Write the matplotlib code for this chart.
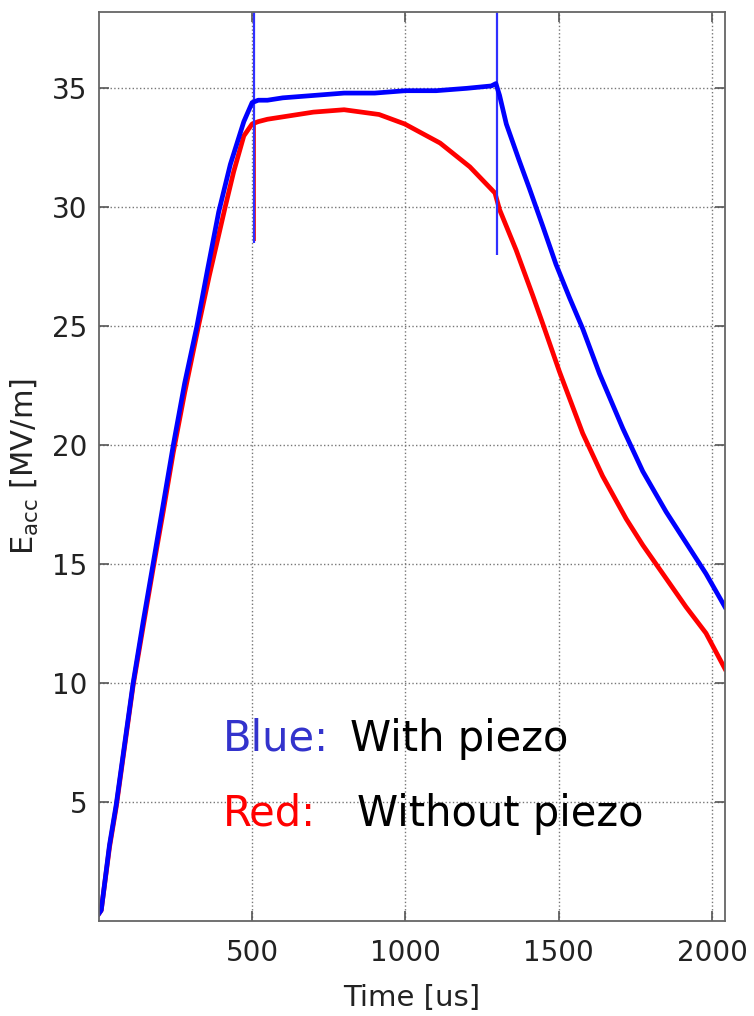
import numpy as np
import matplotlib
matplotlib.use("Agg")
from matplotlib import pyplot as plt

plt.rcParams['font.family'] = ['DejaVu Sans']

# values (time in us, Eacc in MV/m)
t_blue = [0, 8, 35, 57, 85, 112, 145, 177, 210, 243, 280, 320, 355, 391, 429, 473,
          500, 520, 550, 600, 700, 800, 900, 1000, 1100, 1200, 1280, 1295,
          1307, 1329, 1370, 1404, 1448, 1491, 1535, 1578, 1633, 1709, 1774, 1850,
          1915, 1980, 2042]
e_blue = [0.3, 0.45, 3.2, 4.9, 7.5, 10.0, 12.6, 15.0, 17.5, 20.0, 22.6, 25.0, 27.4, 29.8, 31.8, 33.6,
          34.4, 34.5, 34.5, 34.6, 34.7, 34.8, 34.8, 34.9, 34.9, 35.0, 35.1, 35.2,
          34.7, 33.5, 32.0, 30.8, 29.2, 27.6, 26.2, 24.9, 23.0, 20.7, 18.9, 17.2,
          15.9, 14.6, 13.2]

t_red = [0, 8, 35, 57, 85, 112, 145, 177, 210, 243, 280, 325, 360, 412, 440, 473,
         500, 520, 550, 600, 700, 800, 914, 998, 1113, 1210, 1292,
         1307, 1361, 1415, 1448, 1502, 1578, 1643, 1720, 1774, 1850, 1915, 1980, 2042]
e_red = [0.3, 0.45, 3.1, 4.8, 7.4, 9.9, 12.4, 14.8, 17.2, 19.7, 22.2, 25.0, 27.1, 30.0, 31.5, 33.0,
         33.5, 33.6, 33.7, 33.8, 34.0, 34.1, 33.9, 33.5, 32.7, 31.7, 30.6,
         29.9, 28.2, 26.3, 25.1, 23.1, 20.5, 18.7, 16.9, 15.8, 14.4, 13.2, 12.1, 10.6]

# short transients (time, low, high)
blue_spike_t = [505, 1300]
blue_spike_lo = [28.5, 28.0]
blue_spike_hi = [38.2, 38.2]
red_spike_t = [508, 1299]
red_spike_lo = [28.6, 29.0]
red_spike_hi = [33.5, 31.5]

x_ticks = [500, 1000, 1500, 2000]
y_ticks = [5, 10, 15, 20, 25, 30, 35]

fig = plt.figure(figsize=(7.54, 10.16), dpi=100)
ax = fig.add_axes([0.131, 0.0935, 0.8305, 0.8945])

ax.vlines(red_spike_t, red_spike_lo, red_spike_hi, color='#ff2020', lw=1.4)
ax.plot(t_red, e_red, color='#ff0000', lw=3.4)
ax.vlines(blue_spike_t, blue_spike_lo, blue_spike_hi, color='#3030ff', lw=1.6)
ax.plot(t_blue, e_blue, color='#0000ff', lw=3.4)

ax.set_xlim(0, 2042)
ax.set_ylim(0, 38.2)
ax.set_xticks(x_ticks)
ax.set_yticks(y_ticks)
ax.grid(True, linestyle=':', color='#777777', lw=1.0)
ax.tick_params(direction='in', length=7, width=1.2, color='#555555',
               top=True, right=True, labelsize=20, labelcolor='#222222')
ax.tick_params(axis='y', pad=8)
ax.tick_params(axis='x', pad=13)
for s in ax.spines.values():
    s.set_color('#666666')
    s.set_linewidth(1.3)

ax.set_xlabel('Time [us]', fontsize=21, color='#222222', labelpad=12)
ax.set_ylabel(r'E$_{\mathregular{acc}}$ [MV/m]', fontsize=22, color='#222222', labelpad=8)

ax.text(405, 7.15, 'Blue:', color='#3333cc', fontsize=30)
ax.text(819, 7.15, 'With piezo', color='black', fontsize=30)
ax.text(405, 4.0, 'Red:', color='#ff0000', fontsize=30)
ax.text(842, 4.0, 'Without piezo', color='black', fontsize=30)

fig.savefig('out.png', dpi=100)
